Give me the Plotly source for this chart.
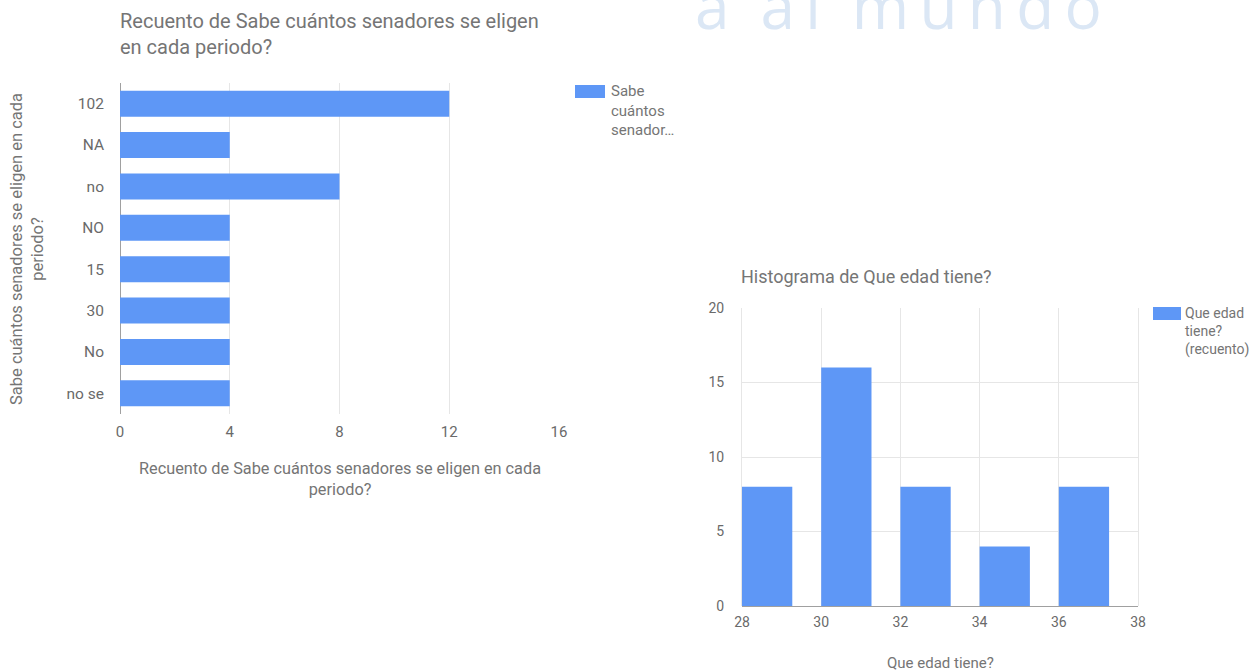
import plotly.graph_objects as go

# ---- data ----
sen_categories = ["102", "NA", "no", "NO", "15", "30", "No", "no se"]
sen_counts = [12, 4, 8, 4, 4, 4, 4, 4]

age_bin_starts = [28, 30, 32, 34, 36]
age_counts = [8, 16, 8, 4, 8]

legend_left = "Sabe<br>cuántos<br>senador…"
legend_right = "Que edad<br>tiene?<br>(recuento)"

W, H = 1259, 672
BLUE = "#5e97f6"
GREY = "#757575"
TICK = "#6a6a6a"
GRID = "#e6e6e6"
FONT = "Roboto"

def px(x):
    return x / W

def py(y):
    return 1 - y / H

fig = go.Figure()

fig.add_trace(go.Bar(
    y=sen_categories, x=sen_counts, orientation="h",
    marker=dict(color=BLUE, line=dict(width=0)), width=0.63,
    name="Sabe cuántos senadores se eligen en cada periodo?",
    xaxis="x", yaxis="y", showlegend=False,
))

fig.add_trace(go.Bar(
    x=age_bin_starts, y=age_counts, offset=0, width=1.27,
    marker=dict(color=BLUE, line=dict(width=0)),
    name="Que edad tiene? (recuento)", xaxis="x2", yaxis="y2", showlegend=False,
))

fig.update_layout(
    template="none",
    width=W, height=H,
    margin=dict(l=0, r=0, t=0, b=0, pad=0),
    paper_bgcolor="white", plot_bgcolor="white",
    font=dict(family=FONT, color=TICK, size=13),
    showlegend=False,
    xaxis=dict(domain=[px(120), px(559)], range=[0, 16], tick0=0, dtick=4,
               showgrid=True, gridcolor=GRID, gridwidth=1,
               zeroline=True, zerolinecolor="#a0a0a0", zerolinewidth=1,
               showline=False, ticks="", anchor="y", automargin=False,
               ticklabelstandoff=7,
               tickfont=dict(size=15, color=TICK, family=FONT)),
    yaxis=dict(domain=[py(414), py(83)], autorange="reversed", type="category",
               showgrid=False, showline=False, zeroline=False, ticks="", anchor="x",
               automargin=False, ticklabelstandoff=15,
               tickfont=dict(size=15.5, color=TICK, family=FONT)),
    xaxis2=dict(domain=[px(742), px(1138)], range=[28, 38], tick0=28, dtick=2,
                showgrid=True, gridcolor=GRID, gridwidth=1, zeroline=False,
                showline=False, ticks="", anchor="y2", automargin=False,
                ticklabelstandoff=6,
                tickfont=dict(size=14, color=TICK, family=FONT)),
    yaxis2=dict(domain=[py(606), py(308)], range=[0, 20], tick0=0, dtick=5,
                showgrid=True, gridcolor=GRID, gridwidth=1,
                zeroline=True, zerolinecolor="#a0a0a0", zerolinewidth=1,
                showline=True, linecolor=GRID, linewidth=1, mirror=True,
                ticks="", anchor="x2", automargin=False,
                ticklabelstandoff=14,
                tickfont=dict(size=14, color=TICK, family=FONT)),
)

shapes = [
    dict(type="rect", xref="paper", yref="paper",
         x0=px(575), x1=px(605), y0=py(98), y1=py(85),
         fillcolor=BLUE, line=dict(width=0)),
    dict(type="rect", xref="paper", yref="paper",
         x0=px(1153), x1=px(1181), y0=py(320), y1=py(307),
         fillcolor=BLUE, line=dict(width=0)),
]

TS = "\u2009"
wm = "\u2002".join(TS.join(w) for w in "a al mundo".split(" "))
annotations = [
    # watermark
    dict(text=wm, x=px(898), y=py(32), xref="paper", yref="paper",
         xanchor="center", yanchor="bottom", yshift=-17, showarrow=False,
         font=dict(size=62, color="#dbe7f5", family="Open Sans")),
    # left chart title
    dict(text="Recuento de Sabe cuántos senadores se eligen<br>en cada periodo?",
         x=px(118), y=py(7), xref="paper", yref="paper", xanchor="left", yanchor="top",
         align="left", showarrow=False,
         font=dict(size=20, color=GREY, family=FONT)),
    # left x title
    dict(text="Recuento de Sabe cuántos senadores se eligen en cada<br>periodo?",
         x=px(340), y=py(479), xref="paper", yref="paper", xanchor="center", yanchor="middle",
         align="center", showarrow=False,
         font=dict(size=16.3, color=GREY, family=FONT)),
    # left y title
    dict(text="Sabe cuántos senadores se eligen en cada<br>periodo?",
         x=px(27), y=py(249), xref="paper", yref="paper", xanchor="center", yanchor="middle",
         align="center", textangle=-90, showarrow=False,
         font=dict(size=16.5, color=GREY, family=FONT)),
    # left legend text
    dict(text=legend_left, x=px(609), y=py(80), xref="paper", yref="paper",
         xanchor="left", yanchor="top", align="left", showarrow=False,
         font=dict(size=15, color=GREY, family=FONT)),
    # right chart title
    dict(text="Histograma de Que edad tiene?",
         x=px(739), y=py(276), xref="paper", yref="paper", xanchor="left", yanchor="middle",
         align="left", showarrow=False,
         font=dict(size=18, color=GREY, family=FONT)),
    # right legend text
    dict(text=legend_right, x=px(1183), y=py(303), xref="paper", yref="paper",
         xanchor="left", yanchor="top", align="left", showarrow=False,
         font=dict(size=14, color=GREY, family=FONT)),
    # right x title
    dict(text="Que edad tiene?",
         x=px(940), y=py(663), xref="paper", yref="paper", xanchor="center", yanchor="middle",
         showarrow=False, font=dict(size=15, color=GREY, family=FONT)),
]
fig.update_layout(annotations=annotations, shapes=shapes)

fig.write_html("out.html",
               config={"displayModeBar": False},
               post_script="document.body.style.margin='0px';document.body.style.overflow='hidden';")
